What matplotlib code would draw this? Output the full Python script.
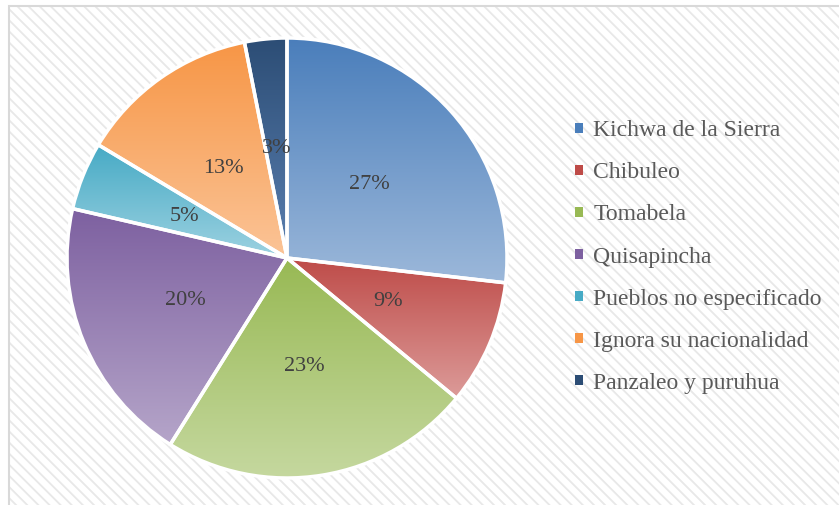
import matplotlib.pyplot as plt
import numpy as np
from matplotlib.colors import to_rgb
from matplotlib.patches import Rectangle, Patch

# datos (porcentajes)
grupos = ['Kichwa de la Sierra', 'Chibuleo', 'Tomabela', 'Quisapincha',
          'Pueblos no especificado', 'Ignora su nacionalidad', 'Panzaleo y puruhua']
valores = [26.8, 9.2, 22.9, 19.7, 5.0, 13.3, 3.1]

# colores degradado: arriba (oscuro) -> abajo (claro)
color_arriba = ['#4a7ebb', '#be4b48', '#98b954', '#7d60a0', '#46aac5', '#f79646', '#2c4d75']
color_abajo = ['#9cb8da', '#dc9b99', '#c5d89f', '#b5a5c9', '#9dd2e1', '#fbc497', '#5a7fb0']

plt.rcParams['font.family'] = ['Liberation Serif', 'DejaVu Serif']
plt.rcParams['hatch.linewidth'] = 1.3

W, H = 839, 505
fig = plt.figure(figsize=(W / 100, H / 100), dpi=100)

# fondo rayado con borde gris
fondo = Rectangle((9 / W, -0.05), 1.1, 1 - 6 / H + 0.05, transform=fig.transFigure,
                  facecolor='white', edgecolor='#e8e8e8', hatch='\\\\\\', linewidth=0, zorder=-2)
borde = Rectangle((9 / W, -0.05), 1.1, 1 - 6 / H + 0.05, transform=fig.transFigure,
                  facecolor='none', edgecolor='#d9d9d9', linewidth=1.5, zorder=-1)
fig.patches.extend([fondo, borde])

# eje de la torta
cx, cy, r = 287, H - 258, 220
lim = 1.05
ax = fig.add_axes([(cx - r * lim) / W, (cy - r * lim) / H, 2 * r * lim / W, 2 * r * lim / H])
ax.patch.set_alpha(0)

wedges, textos, autotextos = ax.pie(
    valores, startangle=90, counterclock=False, autopct='%.0f%%', pctdistance=0.5,
    wedgeprops=dict(edgecolor='white', linewidth=2.5, facecolor='none'),
    textprops=dict(fontsize=16, color='#404040'))

for w, c1, c2 in zip(wedges, color_arriba, color_abajo):
    ext = w.get_path().get_extents()
    t = np.linspace(0, 1, 256)[:, None, None]
    img = (1 - t) * np.array(to_rgb(c1)) + t * np.array(to_rgb(c2))
    im = ax.imshow(img, extent=(ext.x0, ext.x1, ext.y0, ext.y1), origin='upper',
                   aspect='auto', interpolation='bilinear', zorder=0)
    im.set_clip_path(w)

ax.set_xlim(-lim, lim)
ax.set_ylim(-lim, lim)
ax.set_aspect('equal')
ax.axis('off')

# leyenda
manejadores = [Patch(facecolor=c, edgecolor='none') for c in color_arriba]
leg = fig.legend(manejadores, grupos, loc='center left', bbox_to_anchor=(566 / W, (H - 257) / H),
                 frameon=False, fontsize=17, labelcolor='#595959', handlelength=0.3,
                 handleheight=0.3, handletextpad=0.45, labelspacing=0.89, borderaxespad=0)

fig.savefig('out.png', dpi=100)
